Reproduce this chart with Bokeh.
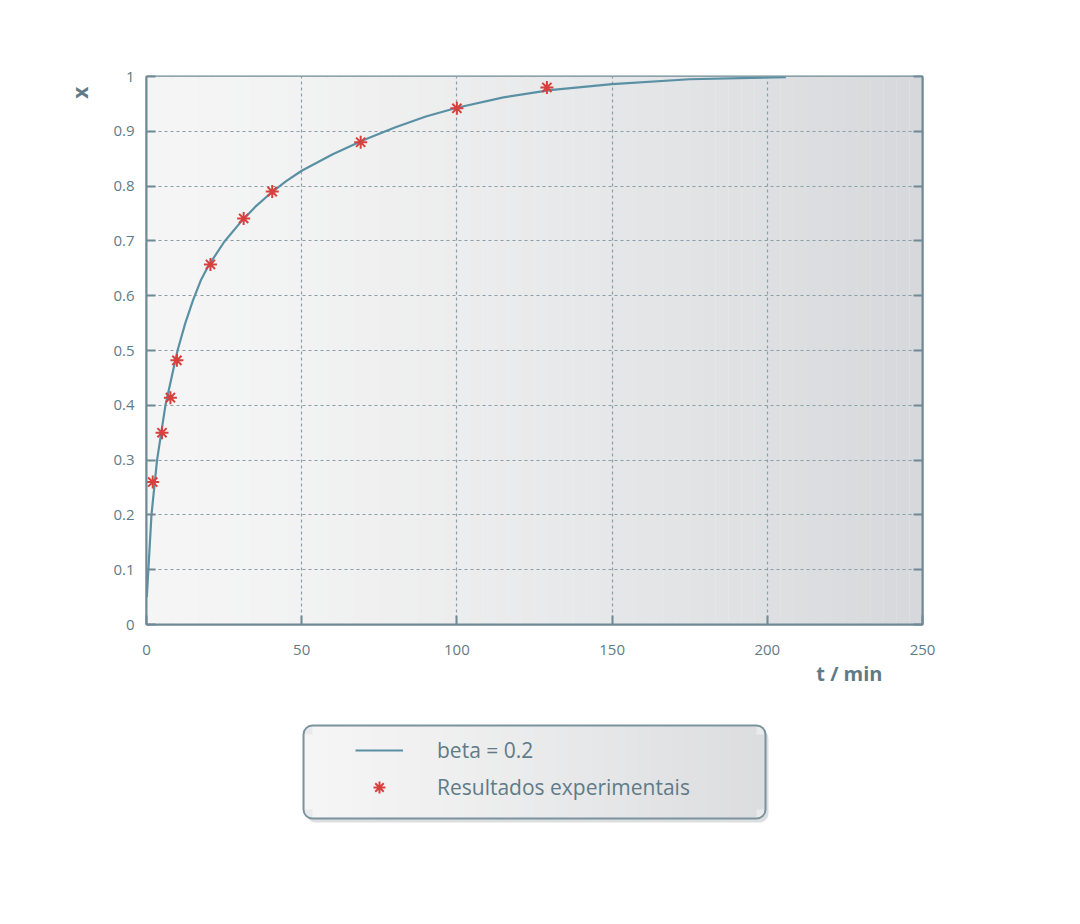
from bokeh.plotting import figure
from bokeh.layouts import column
from bokeh.models import (Range1d, FixedTicker, LinearAxis, Legend, LegendItem,
                          Title, BoxAnnotation)
from bokeh.embed import file_html
from bokeh.resources import INLINE

# ---- data ----
t_model = [0.1, 0.6, 1.6, 3.4, 6.1, 10, 12.5, 15, 17.5, 20, 25, 30, 35, 40, 45, 50,
           60, 70, 80, 90, 100, 115, 130, 150, 175, 206]
x_model = [0.05, 0.1, 0.2, 0.3, 0.4, 0.5, 0.55, 0.592, 0.628, 0.655, 0.698, 0.732,
           0.762, 0.787, 0.809, 0.828, 0.858, 0.884, 0.907, 0.927, 0.943, 0.962,
           0.975, 0.986, 0.995, 0.999]

t_exp = [2, 5, 7.7, 9.8, 20.6, 31.3, 40.5, 69, 100, 129]
x_exp = [0.26, 0.35, 0.414, 0.482, 0.657, 0.741, 0.79, 0.88, 0.942, 0.98]

x_ticks = [0, 50, 100, 150, 200, 250]
x_tick_labels = ["0", "50", "100", "150", "200", "250"]
y_ticks = [0, 0.1, 0.2, 0.3, 0.4, 0.5, 0.6, 0.7, 0.8, 0.9, 1]
y_tick_labels = ["0", "0.1", "0.2", "0.3", "0.4", "0.5", "0.6", "0.7", "0.8", "0.9", "1"]

series_names = ["beta = 0.2", "Resultados experimentais"]
x_label = "t / min"
y_label = "x"

# ---- style ----
FONT = "Open Sans"
AXIS_COL = "#6f8a96"
TEXT_COL = "#5f7b88"
GRID_COL = "#8a9ea7"
LINE_COL = "#5a90a4"
MARK_COL = "#d8403e"
W = 1070


def blend(c0, c1, f):
    return "#%02x%02x%02x" % tuple(int(round(a + (b - a) * f)) for a, b in zip(c0, c1))


p = figure(frame_width=776, frame_height=548,
           x_range=Range1d(0, 250), y_range=Range1d(0, 1),
           output_backend="svg", toolbar_location=None,
           min_border_left=146, min_border_top=76, min_border_right=148,
           min_border_bottom=80)
p.background_fill_color = "#f4f4f4"
p.border_fill_color = "white"
p.outline_line_color = AXIS_COL
p.outline_line_width = 2

# horizontal background gradient (style only)
n_strips = 60
for i in range(n_strips):
    col = blend((245, 245, 245), (214, 216, 219), (i / (n_strips - 1)) ** 1.4)
    w = 250 / n_strips
    p.add_layout(BoxAnnotation(left=i * w, right=(i + 1) * w + 0.01, fill_color=col,
                               fill_alpha=1, line_color=None, level="image"))

# grid
for g in (p.xgrid, p.ygrid):
    g.grid_line_color = GRID_COL
    g.grid_line_dash = "3 3"
    g.grid_line_width = 1.2
p.xgrid.ticker = FixedTicker(ticks=x_ticks)
p.ygrid.ticker = FixedTicker(ticks=y_ticks)

# axes
def style_axis(ax, ticks, labels, size):
    ax.ticker = FixedTicker(ticks=ticks)
    ax.major_label_overrides = dict(zip(ticks, labels))
    ax.axis_line_color = AXIS_COL
    ax.axis_line_width = 2
    ax.major_tick_line_color = AXIS_COL
    ax.major_tick_line_width = 2
    ax.major_tick_in = 9
    ax.major_tick_out = 0
    ax.minor_tick_line_color = None
    ax.major_label_text_font = FONT
    ax.major_label_text_font_size = size
    ax.major_label_text_color = TEXT_COL

style_axis(p.xaxis[0], x_ticks, x_tick_labels, "15px")
style_axis(p.yaxis[0], y_ticks, y_tick_labels, "15px")
p.xaxis.major_label_standoff = 20
p.yaxis.major_label_standoff = 12

ry = LinearAxis()
style_axis(ry, y_ticks, y_tick_labels, "1px")
ry.major_label_text_alpha = 0
p.add_layout(ry, "right")

# data
line_r = p.line(t_model, x_model, line_color=LINE_COL, line_width=2.2)
sc_r = p.scatter(t_exp, x_exp, marker="asterisk", size=13, line_color=MARK_COL,
                 line_width=2)

# axis titles (placed in side panels)
p.add_layout(Title(text=y_label, align="right", offset=10, standoff=30,
                   vertical_align="top",
                   text_font=FONT, text_font_size="21px", text_font_style="bold",
                   text_color=TEXT_COL), "left")
p.add_layout(Title(text=x_label, align="right", offset=40, standoff=0,
                   text_font=FONT, text_font_size="20px", text_font_style="bold",
                   text_color=TEXT_COL), "below")

# ---- legend strip: a second, axis-less figure whose frame is aligned with p's
# frame (page x 146..922); its ranges are in page pixels ----
H2 = 150
q = figure(width=W, height=H2, x_range=Range1d(146, 922), y_range=Range1d(H2, 0),
           x_axis_location=None, y_axis_location=None, min_border=0,
           output_backend="svg", toolbar_location=None)
q.grid.visible = False
q.outline_line_color = None
q.background_fill_color = "white"
q.border_fill_color = "white"

# legend frame: soft shadow, rounded box, gradient fill, border
BL, BR, BT, BB, RAD = 303, 765, 21, 114, 9
q.add_layout(BoxAnnotation(left=BL + 3, right=BR + 3, top=BT + 4, bottom=BB + 4,
                           border_radius=RAD, fill_color="#9aa3a8", fill_alpha=0.35,
                           line_color=None))
q.add_layout(BoxAnnotation(left=BL, right=BR, top=BT, bottom=BB, border_radius=RAD,
                           fill_color="#e9eaeb", fill_alpha=1, line_color=None))
n_leg = 40
for i in range(n_leg):
    col = blend((245, 245, 245), (220, 221, 223), (i / (n_leg - 1)) ** 1.2)
    x0 = BL + 1 + (BR - BL - 2) * i / n_leg
    x1 = BL + 1 + (BR - BL - 2) * (i + 1) / n_leg + 0.5
    if i == 0 or i == n_leg - 1:
        q.add_layout(BoxAnnotation(left=x0, right=x1, top=BT + RAD, bottom=BB - RAD,
                                   fill_color=col, fill_alpha=1, line_color=None))
        xa, xb = (BL + RAD, x1) if i == 0 else (x0, BR - RAD)
        q.add_layout(BoxAnnotation(left=xa, right=xb, top=BT + 1, bottom=BB - 1,
                                   fill_color=col, fill_alpha=1, line_color=None))
    else:
        q.add_layout(BoxAnnotation(left=x0, right=x1, top=BT + 1, bottom=BB - 1,
                                   fill_color=col, fill_alpha=1, line_color=None))
q.add_layout(BoxAnnotation(left=BL, right=BR, top=BT, bottom=BB, border_radius=RAD,
                           fill_alpha=0, line_color="#7a939d", line_width=2,
                           line_alpha=1))

# hidden copies of the series, used only for the legend's glyphs
lg_line = q.line(t_model, x_model, line_color=LINE_COL, line_width=2.2, visible=False)
lg_mark = q.scatter(t_exp, x_exp, marker="asterisk", size=13, line_color=MARK_COL,
                    line_width=2, visible=False)
legend = Legend(items=[LegendItem(label=series_names[0], renderers=[lg_line]),
                       LegendItem(label=series_names[1], renderers=[lg_mark])],
                location=(209, 52), orientation="vertical",
                padding=0, margin=0, spacing=7,
                glyph_width=48, glyph_height=30, label_height=30,
                label_standoff=34, label_width=300,
                label_text_font=FONT, label_text_font_size="21px",
                label_text_color=TEXT_COL,
                inactive_fill_alpha=0,
                border_line_color=None, background_fill_alpha=0)
q.add_layout(legend, "center")

open("out.html", "w").write(file_html(column(p, q), INLINE))
